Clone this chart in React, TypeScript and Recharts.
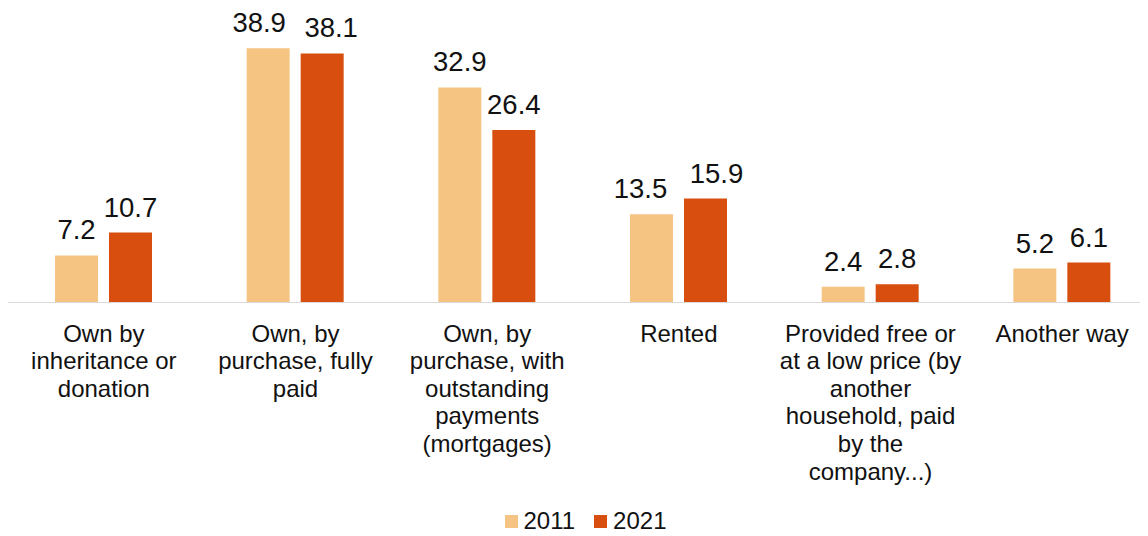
import React from 'react';
import { BarChart, Bar, XAxis, YAxis, Legend, LabelList } from 'recharts';

const categories = [
  'Own by\ninheritance or\ndonation',
  'Own, by\npurchase, fully\npaid',
  'Own, by\npurchase, with\noutstanding\npayments\n(mortgages)',
  'Rented',
  'Provided free or\nat a low price (by\nanother\nhousehold, paid\nby the\ncompany...)',
  'Another way',
];
const values2011 = [7.2, 38.9, 32.9, 13.5, 2.4, 5.2];
const values2021 = [10.7, 38.1, 26.4, 15.9, 2.8, 6.1];
const seriesNames = ['2011', '2021'];
const colors = ['#F5C482', '#D84E0F'];

const data = categories.map((c, i) => ({ category: c, y2011: values2011[i], y2021: values2021[i] }));

const FONT = '"Liberation Sans", Arial, sans-serif';
const TEXT = '#111';

// horizontal spread applied to label pairs that Excel pushed apart
const LABEL_SPREAD: Record<number, number> = { 1: 9, 3: 11 };

const Tick = (props: any) => {
  const { x, y, payload } = props;
  const lines = String(payload.value).split('\n');
  return (
    <text x={x} y={y} textAnchor="middle" fontSize={24} fill={TEXT} fontFamily={FONT}>
      {lines.map((l, i) => (
        <tspan key={i} x={x} dy={i === 0 ? 39 : 27.6}>
          {l}
        </tspan>
      ))}
    </text>
  );
};

const makeLabel = (series: number) => (props: any) => {
  const { x, y, width, value, index } = props;
  const spread = LABEL_SPREAD[index] || 0;
  const nudge = series === 0 ? -spread : spread;
  return (
    <text
      x={Number(x) + Number(width) / 2 + nudge}
      y={Number(y) - 16}
      textAnchor="middle"
      fontSize={27.5}
      fill={TEXT}
      fontFamily={FONT}
    >
      {value}
    </text>
  );
};

const LegendContent = () => (
  <div
    style={{
      display: 'flex',
      justifyContent: 'center',
      alignItems: 'center',
      height: 30,
      paddingLeft: 5,
      fontSize: 24,
      fontFamily: FONT,
      color: TEXT,
    }}
  >
    {seriesNames.map((n, i) => (
      <div key={n} style={{ display: 'flex', alignItems: 'center', marginLeft: i ? 19 : 0 }}>
        <span style={{ width: 13, height: 13, background: colors[i], marginRight: 6, display: 'inline-block' }} />
        <span>{n}</span>
      </div>
    ))}
  </div>
);

export default function App() {
  return (
    <div style={{ width: 1140, height: 528, overflow: 'hidden', fontFamily: FONT, position: 'relative' }}>
      <BarChart
        width={1150}
        height={528}
        data={data}
        margin={{ top: 33, right: 0, bottom: 0, left: 0 }}
        barSize={43}
        barGap={11}
      >
        <XAxis
          dataKey="category"
          height={203.5}
          tickSize={0}
          tickMargin={0}
          tickLine={false}
          axisLine={{ stroke: '#D9D9D9', strokeWidth: 1 }}
          tick={<Tick />}
          interval={0}
        />
        <YAxis hide domain={[0, 40]} />
        <Legend verticalAlign="bottom" content={<LegendContent />} />
        <Bar dataKey="y2011" name={seriesNames[0]} fill={colors[0]} isAnimationActive={false}>
          <LabelList dataKey="y2011" content={makeLabel(0)} />
        </Bar>
        <Bar dataKey="y2021" name={seriesNames[1]} fill={colors[1]} isAnimationActive={false}>
          <LabelList dataKey="y2021" content={makeLabel(1)} />
        </Bar>
      </BarChart>
    </div>
  );
}
